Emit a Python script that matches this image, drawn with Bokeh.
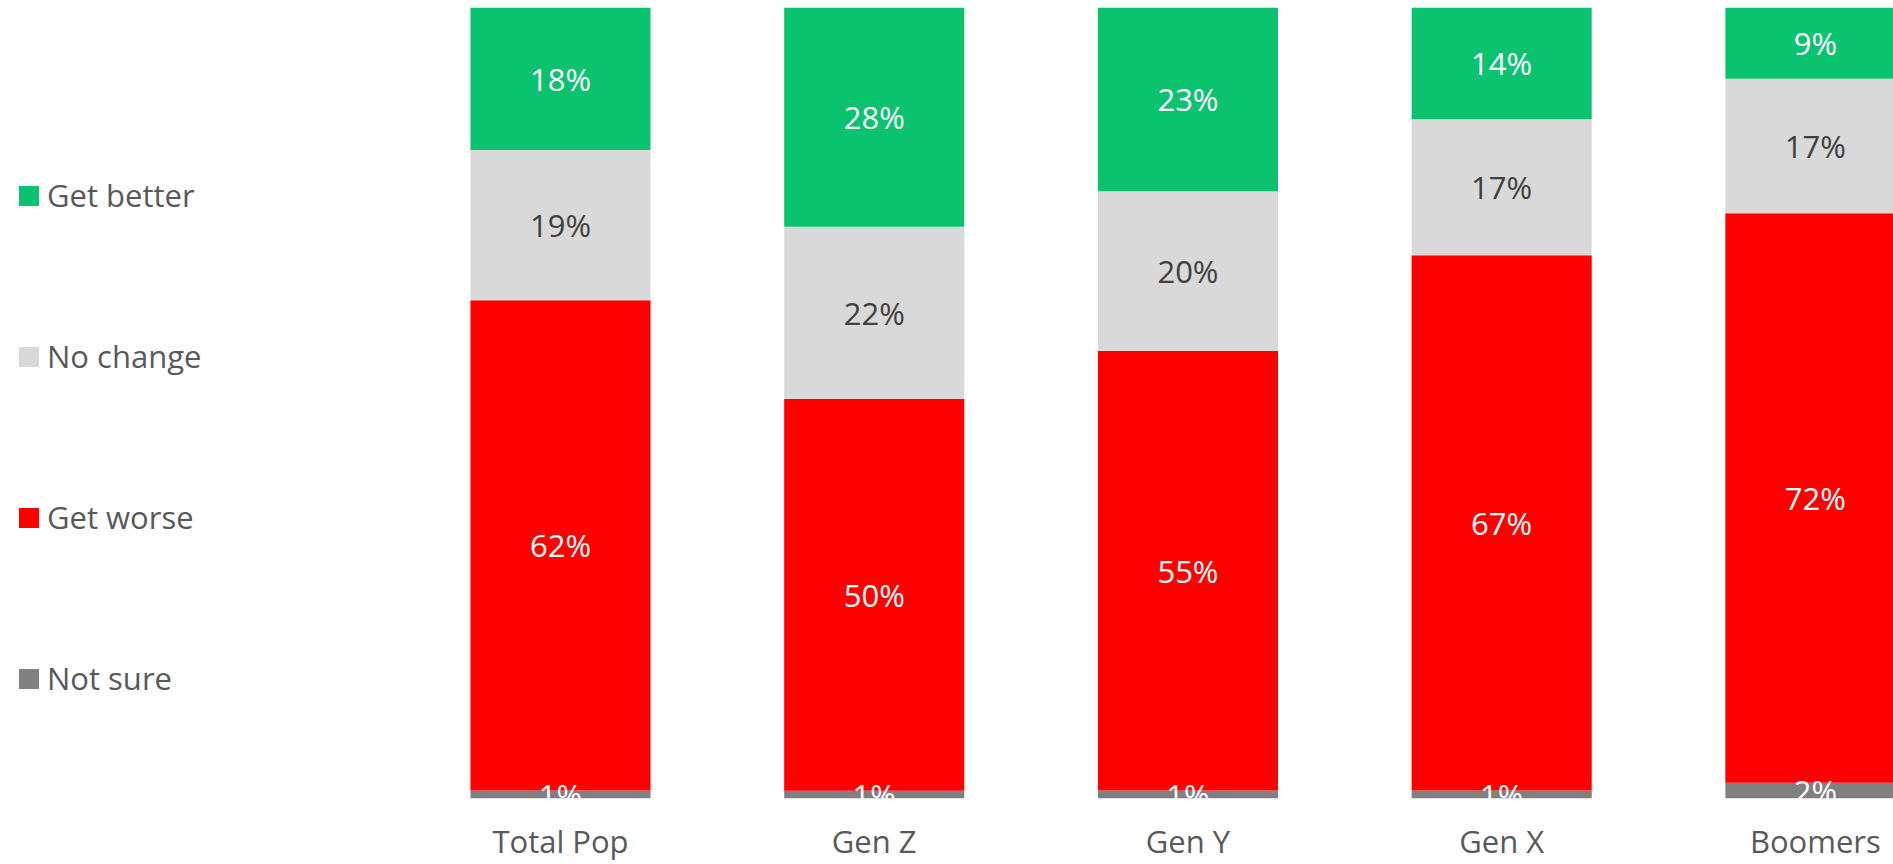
from bokeh.plotting import figure
from bokeh.models import ColumnDataSource, Range1d, FixedTicker, Legend, LegendItem
from bokeh.core.properties import value
from bokeh.embed import file_html
from bokeh.resources import INLINE

categories = ["Total Pop", "Gen Z", "Gen Y", "Gen X", "Boomers"]
get_better = [18, 28, 23, 14, 9]
no_change = [19, 22, 20, 17, 17]
get_worse = [62, 50, 55, 67, 72]
not_sure = [1, 1, 1, 1, 2]

# stacked bottom -> top
series_keys = ["not_sure", "get_worse", "no_change", "get_better"]
series_names = ["Not sure", "Get worse", "No change", "Get better"]
series_vals = [not_sure, get_worse, no_change, get_better]
colors = ["#808080", "#ff0000", "#d9d9d9", "#0bc26f"]
label_colors = ["#ffffff", "#ffffff", "#404040", "#ffffff"]

FONT = "Open Sans"
xs = list(range(len(categories)))
totals = [sum(t) for t in zip(*series_vals)]

data = dict(x=xs)
for key, vals in zip(series_keys, series_vals):
    data[key] = [v / t * 100.0 for v, t in zip(vals, totals)]
source = ColumnDataSource(data)

p = figure(width=1893, height=864, output_backend="svg", toolbar_location=None,
           x_range=Range1d(-1.785, 4.249), y_range=Range1d(0, 100),
           y_axis_location=None,
           min_border_left=0, min_border_right=0, min_border_top=7, min_border_bottom=0)
p.outline_line_color = None
p.xgrid.visible = False
p.ygrid.visible = False
p.background_fill_color = "white"
p.border_fill_color = "white"

renderers = p.vbar_stack(series_keys, x="x", width=0.574, color=colors, source=source,
                         line_color=None)

# segment labels
lx, ly, lt, lc = [], [], [], []
for i in xs:
    base = 0.0
    for key, vals, col in zip(series_keys, series_vals, label_colors):
        share = data[key][i]
        lx.append(i)
        ly.append(base + share / 2.0)
        lt.append(f"{vals[i]}%")
        lc.append(col)
        base += share
lsrc = ColumnDataSource(dict(x=lx, y=ly, text=lt, color=lc))
p.text(x="x", y="y", text="text", text_color="color", source=lsrc,
       text_align="center", text_baseline="middle",
       text_font=value(FONT), text_font_size="31px")

# x axis
ax = p.xaxis[0]
ax.ticker = FixedTicker(ticks=xs)
ax.major_label_overrides = {i: c for i, c in zip(xs, categories)}
ax.axis_line_color = None
ax.major_tick_line_color = None
ax.minor_tick_line_color = None
ax.major_tick_out = 0
ax.major_tick_in = 0
ax.major_label_standoff = 21
ax.major_label_text_font = FONT
ax.major_label_text_font_size = "31px"
ax.major_label_text_color = "#595959"

# legend
items = [LegendItem(label=n, renderers=[r]) for n, r in zip(series_names, renderers)]
items = items[::-1]
legend = Legend(items=items, location=(16, 99), orientation="vertical",
                glyph_width=25, glyph_height=25, label_standoff=6,
                label_text_font=FONT, label_text_font_size="31px",
                label_text_color="#595959", spacing=119, padding=0, margin=0,
                border_line_color=None, background_fill_alpha=0)
p.add_layout(legend)

open("out.html", "w").write(file_html(p, INLINE))
